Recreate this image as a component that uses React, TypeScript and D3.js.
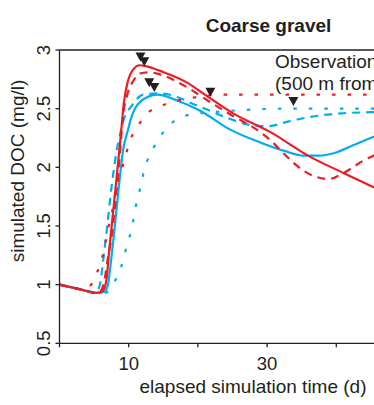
import React from 'react';
import * as d3 from 'd3';

// [day, DOC mg/l]
const redSolid: [number, number][] = [
  [0, 1.0], [3, 0.96], [5.4, 0.93], [6.3, 0.95], [6.8, 1.05], [7.2, 1.3], [7.8, 1.65],
  [8.4, 2.0], [8.9, 2.3], [9.3, 2.55], [9.9, 2.74], [10.6, 2.83], [11.6, 2.87], [12.6, 2.86],
  [14.6, 2.82], [18.5, 2.72], [21, 2.62], [25.1, 2.46], [30.5, 2.3], [35.9, 2.1], [41.1, 1.95],
  [45.4, 1.83], [50, 1.7],
];
const redDashed: [number, number][] = [
  [0, 1.0], [3, 0.96], [5.2, 0.93], [6.0, 0.95], [6.5, 1.04], [7.0, 1.23], [7.5, 1.4],
  [7.9, 1.6], [8.4, 1.9], [8.7, 2.1], [9.2, 2.45], [9.8, 2.62], [10.7, 2.74], [11.6, 2.8],
  [13, 2.81], [14.6, 2.79], [18.5, 2.68], [21.4, 2.57], [25, 2.44], [28, 2.34], [30.5, 2.23],
  [32.2, 2.13], [33.8, 2.04], [35.3, 1.97], [37, 1.92], [38.9, 1.9], [40.7, 1.94], [42.4, 2.0],
  [44, 2.06], [45.4, 2.1], [50, 2.2],
];
const redDotted: [number, number][] = [
  [0, 1.0], [3, 0.97], [4.4, 0.99], [5.4, 1.1], [6.16, 1.23], [6.6, 1.35], [7.03, 1.48],
  [7.6, 1.62], [8.3, 1.85], [9.0, 1.98], [9.6, 2.11], [10.2, 2.23], [11.2, 2.34], [12.7, 2.46],
  [14.6, 2.52], [16.5, 2.56], [19, 2.59], [21, 2.61], [25, 2.62], [50, 2.62],
];
const blueSolid: [number, number][] = [
  [0, 1.0], [3, 0.96], [5.5, 0.93], [6.5, 0.94], [7.0, 1.0], [7.4, 1.18], [8.0, 1.5],
  [8.6, 1.85], [9.2, 2.15], [9.9, 2.32], [10.4, 2.43], [10.9, 2.5], [11.7, 2.56], [14.1, 2.62],
  [17, 2.57], [20.4, 2.48], [24.4, 2.33], [29.1, 2.21], [32.5, 2.14], [35.3, 2.1], [37.5, 2.1],
  [39.6, 2.12], [42.5, 2.19], [45.4, 2.26], [50, 2.34],
];
const blueDashed: [number, number][] = [
  [0, 1.0], [3, 0.96], [4.5, 0.94], [5.2, 0.93], [5.8, 0.99], [6.2, 1.15], [6.6, 1.35],
  [6.9, 1.5], [7.3, 1.72], [7.6, 1.87], [7.9, 2.0], [8.2, 2.12], [8.6, 2.24], [9.2, 2.39],
  [10.5, 2.53], [12.1, 2.62], [14.6, 2.63], [17, 2.6], [19.3, 2.54], [21.4, 2.49], [24.3, 2.42],
  [27.6, 2.36], [30.1, 2.35], [33, 2.39], [36.3, 2.43], [40.7, 2.46], [45, 2.47], [50, 2.48],
];
const blueDotted: [number, number][] = [
  [0, 1.0], [3, 0.96], [5.5, 0.93], [6.6, 0.93], [8.0, 1.03], [8.9, 1.15], [9.5, 1.28],
  [10.1, 1.4], [10.8, 1.59], [11.2, 1.72], [11.8, 1.85], [12.2, 1.97], [13, 2.1], [14, 2.21],
  [15, 2.3], [16.7, 2.4], [18.9, 2.45], [22.2, 2.47], [27, 2.49], [33, 2.5], [50, 2.5],
];
// observed values (triangles)
const observations: [number, number][] = [
  [11.7, 2.94], [12.25, 2.9], [12.97, 2.72], [13.7, 2.68], [21.8, 2.64], [33.8, 2.56],
];

const xTicks = [0, 10, 20, 30, 40, 50, 60];
const xLabelled = [10, 30];
const yTicks = [0.5, 1, 1.5, 2, 2.5, 3];

const W = 374;
const H = 405;
const RED = '#ed1c24';
const BLUE = '#00aeef';
const INK = '#231f20';
const FONT = '"Liberation Sans", Arial, Helvetica, sans-serif';

const series = [
  { data: blueDotted, color: BLUE, dash: '3.5 12' },
  { data: blueDashed, color: BLUE, dash: '8 6' },
  { data: blueSolid, color: BLUE, dash: null },
  { data: redDotted, color: RED, dash: '3.5 12' },
  { data: redDashed, color: RED, dash: '8 6' },
  { data: redSolid, color: RED, dash: null },
];

export default function App() {
  const x = d3.scaleLinear().domain([0, 60]).range([59.5, 474.7]);
  const y = d3.scaleLinear().domain([0.5, 3]).range([343.3, 50]);
  const line = d3
    .line<[number, number]>()
    .x((d) => x(d[0]))
    .y((d) => y(d[1]))
    .curve(d3.curveMonotoneX);

  const [x0, x1] = x.range();
  const [yb, yt] = y.range();

  return (
    <svg
      width={W}
      height={H}
      style={{ position: 'absolute', left: 0, top: 0, background: '#fff' }}
      fontFamily={FONT}
    >
      <text x={268.5} y={32} textAnchor="middle" fontWeight="bold" fontSize={19} fill={INK}>
        Coarse gravel
      </text>

      <g>
        {series.map((s, i) => (
          <path
            key={i}
            d={line(s.data) || ''}
            fill="none"
            stroke={s.color}
            strokeWidth={2.2}
            strokeDasharray={s.dash || undefined}
          />
        ))}
      </g>

      <g fill={INK}>
        {observations.map((o, i) => (
          <path key={i} transform={`translate(${x(o[0])},${y(o[1])})`} d="M-5,-4.5L5,-4.5L0,4.5Z" />
        ))}
      </g>

      {/* frame */}
      <g stroke={INK} strokeWidth={1.3} fill="none">
        <line x1={x0} x2={x0} y1={yt} y2={yb} />
        <line x1={x0} x2={x1} y1={yb} y2={yb} />
        <line x1={x0} x2={x1} y1={yt} y2={yt} />
        {xTicks.map((t) => (
          <line key={t} x1={x(t)} x2={x(t)} y1={yb} y2={yb + 4} />
        ))}
        {yTicks.map((t) => (
          <line key={t} x1={x0 - 4} x2={x0} y1={y(t)} y2={y(t)} />
        ))}
      </g>

      <g fontSize={18.5} fill={INK}>
        {xLabelled.map((t) => (
          <text key={t} x={x(t)} y={370} textAnchor="middle">
            {t}
          </text>
        ))}
        {yTicks.map((t) => (
          <text key={t} transform={`translate(50,${y(t)}) rotate(-90)`} textAnchor="middle">
            {d3.format('~g')(t)}
          </text>
        ))}
      </g>

      <text x={253} y={393} textAnchor="middle" fontSize={19} fill={INK}>
        elapsed simulation time (d)
      </text>
      <text transform="translate(24,171) rotate(-90)" textAnchor="middle" fontSize={19} fill={INK}>
        simulated DOC (mg/l)
      </text>

      <g fontSize={19} fill={INK}>
        <text x={275} y={68}>Observations</text>
        <text x={275} y={90}>(500 m from inlet)</text>
      </g>
    </svg>
  );
}
